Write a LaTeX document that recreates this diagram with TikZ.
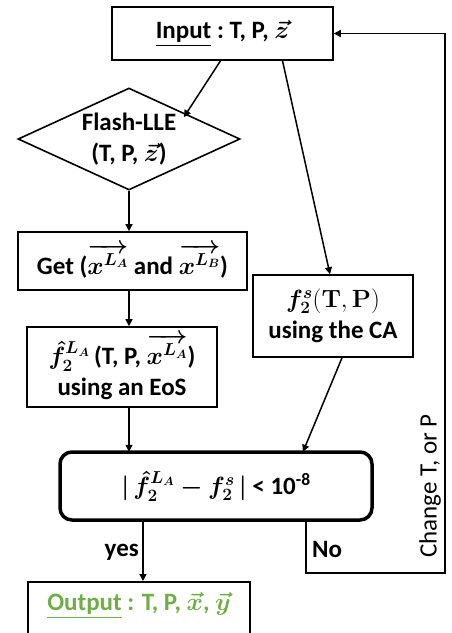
\documentclass[tikz,border=0pt]{standalone}
\usepackage{amsmath}
\usepackage{bm}
\usepackage[no-math]{fontspec}
\setmainfont{Carlito}
\usetikzlibrary{shapes.geometric,arrows.meta}
\definecolor{outgreen}{RGB}{112,173,71}
\tikzset{
  box/.style={draw, line width=1.6pt, rectangle, inner sep=0pt, align=center},
  arr/.style={-{Triangle[length=7pt,width=7pt]}, line width=1.5pt},
  lbl/.style={inner sep=0pt},
}
\begin{document}
\begin{tikzpicture}[x=1pt,y=-1pt,font=\bfseries\fontsize{25}{31}\selectfont]
\useasboundingbox (0,0) rectangle (451,633);
% nodes
\node[box, minimum width=221pt, minimum height=53pt] (input) at (222.5,33.5) {\underline{Input} :\ T, P, $\bm{\vec{z}}$};
\node[diamond, draw, line width=1.6pt, minimum width=222pt, minimum height=102pt, inner sep=0pt] (flash) at (129,139) {};
\node[align=center, lbl] (flashtxt) at (flash.center) {Flash-LLE\\(T, P, $\bm{\vec{z}}$)};
\node[box, minimum width=229pt, minimum height=58pt] (get) at (132.5,261) {Get ($\bm{\overrightarrow{x^{L_A}}}$ and $\bm{\overrightarrow{x^{L_B}}}$)};
\node[box, minimum width=160pt, minimum height=82pt] (fs) at (333,316) {$\bm{f_2^s}\mathbf{(T,P)}$\\using the CA};
\node[box, minimum width=190pt, minimum height=80pt] (fla) at (122,367) {$\bm{\hat{f}_2^{L_A}}$\,(T, P, $\bm{\overrightarrow{x^{L_A}}}$)\\using an EoS};
\node[draw, line width=3.5pt, rounded corners=12pt, minimum width=312pt, minimum height=68pt] (dec) at (216,486) {$\bm{|\,\hat{f}_2^{L_A}-f_2^s\,|}$ < 10\textsuperscript{-8}};
\node[box, anchor=north, minimum width=222pt, minimum height=60pt] (out) at (139,581) {};
\node[lbl, text=outgreen] (outtxt) at (139,606) {\underline{Output} : T, P, $\bm{\vec{x}}$, $\bm{\vec{y}}$};
\coordinate (nocorner) at (445,573);
% connectors
\draw[arr] ([xshift=-2pt]input.south) -- ([xshift=-1pt,yshift=-4pt]flash.north east);
\draw[arr] ([xshift=60pt]input.south) -- ([xshift=-3pt]fs.north);
\draw[arr] (flash.south) -- (flash.south |- get.north);
\draw[arr] (flash.south |- get.south) -- (flash.south |- fla.north);
\draw[arr] (flash.south |- fla.south) -- ([yshift=-1.5pt]flash.south |- dec.north);
\draw[arr] ([xshift=9pt]fs.south) -- ([xshift=87pt,yshift=-1.5pt]dec.north);
\draw[arr] ([xshift=-73pt]dec.south) -- ([xshift=-73pt]dec.south |- out.north);
\draw[arr] ([xshift=90pt]dec.south) |- (nocorner) |- (input.east);
% labels
\node[lbl, anchor=east] (yes) at (139,552) {yes};
\node[lbl, anchor=west] (no) at (312,549) {No};
\node[lbl, rotate=90, font=\mdseries\fontsize{25}{31}\selectfont] (change) at (430,486) {Change T, or P};
\end{tikzpicture}
\end{document}
